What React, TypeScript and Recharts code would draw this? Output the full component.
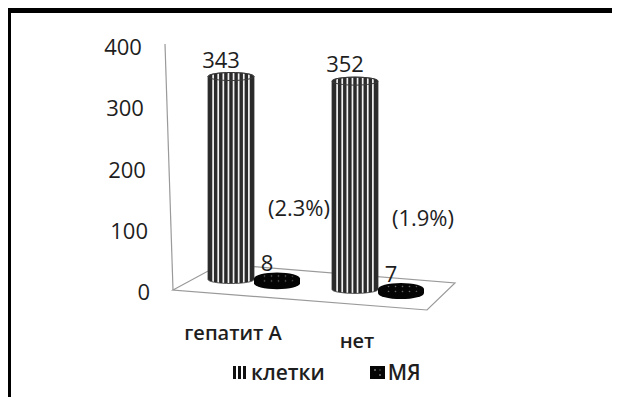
import React from 'react';
import { BarChart, Bar, XAxis, YAxis, Legend, LabelList, Customized } from 'recharts';

// Counts per group
const categories = ['гепатит А', 'нет'];
const cellCounts = [343, 352];
const myCounts = [8, 7];
const myShares = ['(2.3%)', '(1.9%)'];
const yTicks = [0, 100, 200, 300, 400];
const seriesKeys = ['cells', 'my'];
const seriesNames = ['клетки', 'МЯ'];

const data = categories.map((name, i) => ({
  name,
  cells: cellCounts[i],
  my: myCounts[i],
  share: myShares[i],
}));

// Layout
const W = 604;
const H = 389;
const MARGIN = { top: 37, right: 172, bottom: 77, left: 124 };
const Y_AXIS_W = 60;
const X_AXIS_H = 30;
const PLOT_LEFT = MARGIN.left + Y_AXIS_W;
const PLOT_RIGHT = W - MARGIN.right;
const PLOT_TOP = MARGIN.top;
const PLOT_BOTTOM = H - MARGIN.bottom - X_AXIS_H;
const BAR_SIZE = 46;
const SLOPE = 0.08; // the floor recedes downward to the right
const FONT = "'Open Sans', 'DejaVu Sans', sans-serif";
const INK = '#1e1e1e';

const shiftAt = (x: number) => SLOPE * (x - PLOT_LEFT);

// Striped 3D cylinder
function Cylinder(props: any) {
  const x = Number(props.x);
  const y = Number(props.y);
  const width = Number(props.width);
  const height = Number(props.height);
  if (!isFinite(x) || !isFinite(height)) return null;
  const cx = x + width / 2;
  const dy = shiftAt(cx);
  const top = y + dy;
  const bottom = y + height + dy;
  const rx = width / 2;
  const ry = 4;
  const id = `cyl-clip-${props.index}`;
  const outline = `M ${x} ${top} L ${x} ${bottom} A ${rx} ${ry} 0 0 0 ${x + width} ${bottom} L ${x + width} ${top} A ${rx} ${ry} 0 0 0 ${x} ${top} Z`;
  const n = 9;
  const stripes = [];
  for (let k = 1; k < n; k++) {
    const sx = x + (k * width) / n;
    stripes.push(
      <line key={k} x1={sx} x2={sx} y1={top - ry - 1} y2={bottom + ry + 1} stroke="#f2f2f2" strokeWidth={1.7} />
    );
  }
  return (
    <g>
      <defs>
        <clipPath id={id}>
          <path d={outline} />
        </clipPath>
      </defs>
      <g clipPath={`url(#${id})`}>
        <path d={outline} fill="#2a2a2a" />
        {stripes}
      </g>
      <ellipse cx={cx} cy={top} rx={rx} ry={ry} fill="none" stroke="#3a3a3a" strokeWidth={1} />
      <path d={outline} fill="none" stroke="#333" strokeWidth={0.8} />
    </g>
  );
}

// Flat dotted black disc
function Disc(props: any) {
  const x = Number(props.x);
  const y = Number(props.y);
  const width = Number(props.width);
  const height = Number(props.height);
  if (!isFinite(x) || !isFinite(height)) return null;
  const cx = x + width / 2;
  const dy = shiftAt(cx);
  const top = y + dy;
  const bottom = y + height + dy;
  const rx = width / 2;
  const ry = 6;
  const id = `disc-dots-${props.index}`;
  const side = `M ${x} ${top} L ${x} ${bottom} A ${rx} ${ry} 0 0 0 ${x + width} ${bottom} L ${x + width} ${top} Z`;
  return (
    <g>
      <defs>
        <pattern id={id} width={7} height={5} patternUnits="userSpaceOnUse" x={x} y={top}>
          <circle cx={3.5} cy={2.5} r={0.8} fill="#6c6c6c" />
        </pattern>
      </defs>
      <path d={side} fill="#050505" />
      <ellipse cx={cx} cy={top} rx={rx} ry={ry} fill="#050505" />
      <ellipse cx={cx} cy={top} rx={rx - 3} ry={ry - 1.5} fill={`url(#${id})`} />
    </g>
  );
}

function makeValueLabel(ry: number, gap: number) {
  return (p: any) => {
    const x = Number(p.x);
    const y = Number(p.y);
    const width = Number(p.width);
    const cx = x + width / 2;
    return (
      <text
        x={cx - 10}
        y={y + shiftAt(cx) - ry - gap}
        textAnchor="middle"
        dominantBaseline="central"
        fontFamily={FONT}
        fontSize={22}
        fill={INK}
      >
        {p.value}
      </text>
    );
  };
}

function ShareLabel(p: any) {
  const x = Number(p.x);
  const y = Number(p.y);
  const width = Number(p.width);
  const height = Number(p.height);
  const cx = x + width / 2;
  return (
    <text
      x={cx + 22}
      y={y + height + shiftAt(cx) - 76}
      textAnchor="middle"
      dominantBaseline="central"
      fontFamily={FONT}
      fontSize={22}
      fill={INK}
    >
      {p.value}
    </text>
  );
}

function YTick(p: any) {
  const y = Number(p.y);
  const rightEdge = PLOT_LEFT - 42 + (y - PLOT_BOTTOM) * 0.033;
  return (
    <text x={rightEdge} y={y + 1} textAnchor="end" dominantBaseline="central" fontFamily={FONT} fontSize={22} fill={INK}>
      {p.payload.value}
    </text>
  );
}

function XTick(p: any) {
  const cx = Number(p.x) - BAR_SIZE / 2;
  const ty = PLOT_BOTTOM + 39.5 + 0.065 * (cx - PLOT_LEFT);
  return (
    <text
      x={cx + 2}
      y={ty}
      textAnchor="middle"
      dominantBaseline="central"
      fontFamily={FONT}
      fontSize={20}
      fontWeight={600}
      fill={INK}
    >
      {p.payload.value}
    </text>
  );
}

// Floor plane and the slanted back-wall edge
function Floor() {
  const pts = [
    [PLOT_LEFT - 19, PLOT_BOTTOM],
    [PLOT_LEFT + 29, PLOT_BOTTOM - 26],
    [PLOT_RIGHT + 15, PLOT_BOTTOM - 7],
    [PLOT_RIGHT - 13, PLOT_BOTTOM + 20],
  ];
  return (
    <g>
      <line x1={PLOT_LEFT - 27} y1={PLOT_TOP - 1} x2={PLOT_LEFT - 19} y2={PLOT_BOTTOM} stroke="#9a9a9a" strokeWidth={1.2} />
      <polygon points={pts.map((q) => q.join(',')).join(' ')} fill="none" stroke="#9a9a9a" strokeWidth={1.2} />
    </g>
  );
}

function LegendIcon({ kind }: { kind: string }) {
  if (kind === 'cells') {
    return (
      <svg width={13} height={15} style={{ display: 'block' }}>
        <rect x={0} y={1} width={3} height={13} fill="#111" />
        <rect x={5} y={1} width={3} height={13} fill="#111" />
        <rect x={10} y={1} width={3} height={13} fill="#111" />
      </svg>
    );
  }
  return (
    <svg width={15} height={15} style={{ display: 'block' }}>
      <rect x={0} y={1} width={15} height={13} fill="#050505" />
      <circle cx={5} cy={5} r={1} fill="#777" />
      <circle cx={10} cy={10} r={1} fill="#777" />
      <circle cx={10} cy={5} r={0.8} fill="#555" />
    </svg>
  );
}

function LegendRow(props: any) {
  const items = ((props.payload || []) as any[])
    .slice()
    .sort((a, b) => seriesKeys.indexOf(a.dataKey) - seriesKeys.indexOf(b.dataKey));
  return (
    <div
      style={{
        display: 'flex',
        alignItems: 'center',
        paddingLeft: 225,
        fontFamily: FONT,
        fontSize: 21,
        fontWeight: 600,
        color: INK,
        lineHeight: '26px',
      }}
    >
      {items.map((it, i) => (
        <div key={i} style={{ display: 'flex', alignItems: 'center', marginLeft: i === 0 ? 0 : 45 }}>
          <LegendIcon kind={it.dataKey} />
          <span style={{ marginLeft: i === 0 ? 5 : 3 }}>{it.value}</span>
        </div>
      ))}
    </div>
  );
}

export default function App() {
  return (
    <div style={{ position: 'relative', width: W, height: H, background: '#fff' }}>
      <div
        style={{
          position: 'absolute',
          left: -2,
          top: 0,
          width: 608,
          height: 384,
          borderTop: '5px solid #000',
          borderLeft: '5px solid #000',
          borderRight: '1px solid #d8d8d8',
          pointerEvents: 'none',
        }}
      />
      <BarChart width={W} height={H} data={data} margin={MARGIN} barSize={BAR_SIZE} barGap={0}>
        <Customized component={Floor} />
        <XAxis dataKey="name" height={X_AXIS_H} axisLine={false} tickLine={false} tick={<XTick />} interval={0} />
        <YAxis
          width={Y_AXIS_W}
          domain={[0, 400]}
          ticks={yTicks}
          type="number"
          allowDataOverflow
          axisLine={false}
          tickLine={false}
          tick={<YTick />}
        />
        <YAxis yAxisId="bars" hide type="number" domain={[-23, 391]} />
        <Legend
          verticalAlign="middle"
          align="center"
          layout="horizontal"
          wrapperStyle={{ top: 351, left: 0, width: W }}
          content={<LegendRow />}
        />
        <Bar dataKey="cells" name={seriesNames[0]} yAxisId="bars" shape={<Cylinder />} isAnimationActive={false}>
          <LabelList dataKey="cells" content={makeValueLabel(4, 14)} />
        </Bar>
        <Bar dataKey="my" name={seriesNames[1]} yAxisId="bars" shape={<Disc />} isAnimationActive={false}>
          <LabelList dataKey="my" content={makeValueLabel(6, 10)} />
          <LabelList dataKey="share" content={ShareLabel} />
        </Bar>
      </BarChart>
    </div>
  );
}
